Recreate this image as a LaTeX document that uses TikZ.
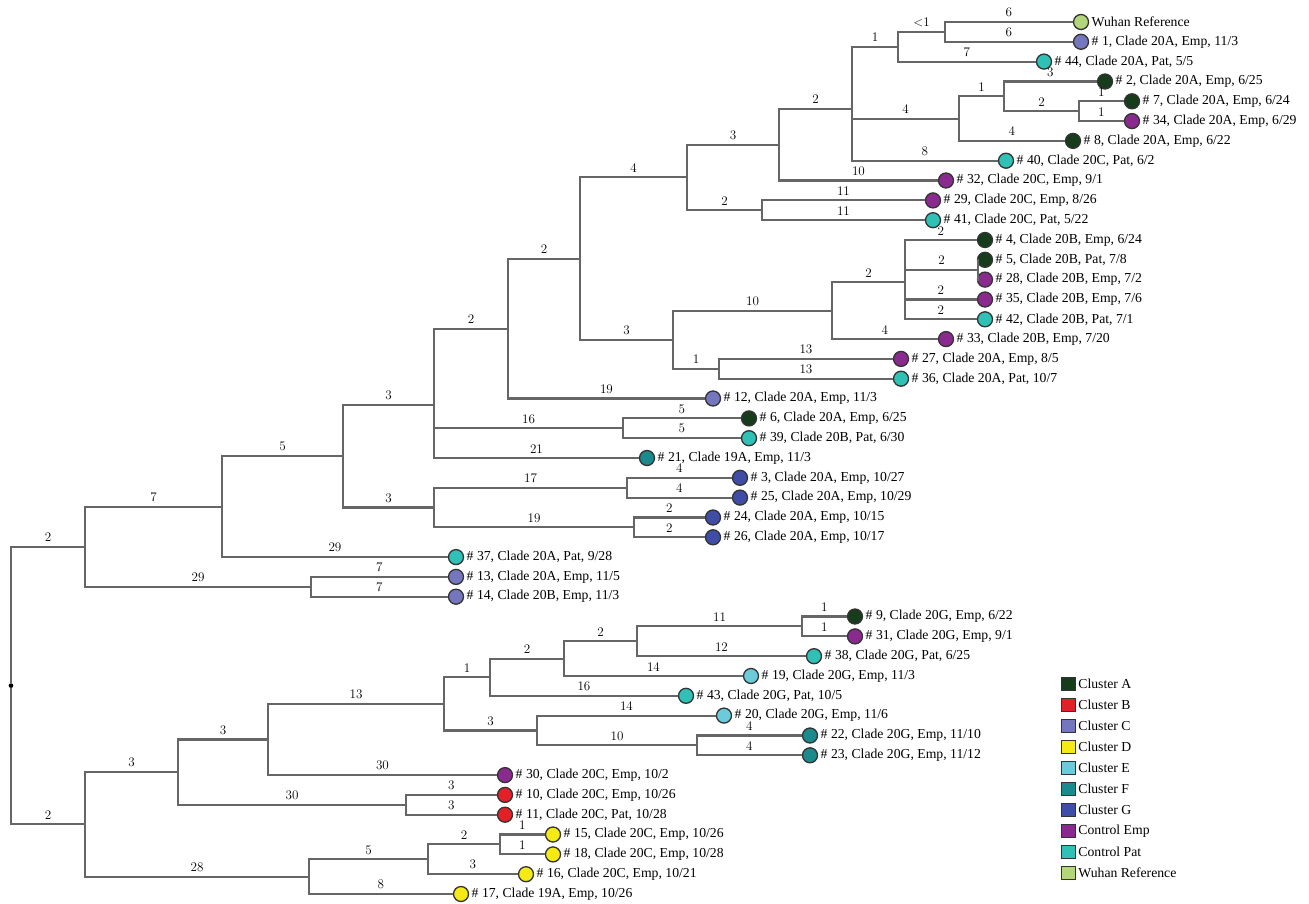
\documentclass[tikz,border=0pt]{standalone}
\usepackage{fontspec}
\newfontfamily\tipfont{Liberation Serif}
\usetikzlibrary{positioning}

\definecolor{clusterA}{HTML}{173C1B}
\definecolor{clusterB}{HTML}{E32028}
\definecolor{clusterC}{HTML}{7477BD}
\definecolor{clusterD}{HTML}{F5EA14}
\definecolor{clusterE}{HTML}{6BCBDB}
\definecolor{clusterF}{HTML}{1B8A8C}
\definecolor{clusterG}{HTML}{3F4DA6}
\definecolor{controlEmp}{HTML}{8B2A8E}
\definecolor{controlPat}{HTML}{2FC0B6}
\definecolor{wuhanRef}{HTML}{B3D67A}

\begin{document}
\begin{tikzpicture}[
    x=0.03cm, y=-0.03cm,
    branch/.style={line width=1.75pt, draw=black!60},
    leaf/.style={circle, draw=black!80, line width=1.1pt, inner sep=0pt, minimum size=0.45cm},
    tip_label/.style={font=\tipfont\fontsize{11.7}{13}\selectfont, inner sep=2pt},
    branch_len/.style={font=\fontsize{11.2}{12}\selectfont, above, pos=0.75},
    key_box/.style={rectangle, draw=black!80, line width=1.1pt, minimum size=0.4cm, inner sep=0pt},
    key_label/.style={font=\tipfont\fontsize{11.7}{13}\selectfont, inner sep=2pt}
]
\useasboundingbox (0,0) rectangle (1309,904);

% Root
\node[circle, fill=black, inner sep=0pt, minimum size=4pt] (root) at (11,685.6) {};

% Internal nodes, upper tree
\coordinate (c1) at (85,546.7);
\coordinate (c3) at (222,506.7);
\coordinate (c4) at (343,456.2);
\coordinate (c5) at (434,404.9);
\coordinate (c6) at (508,328.6);
\coordinate (c7) at (580,258.6);
\coordinate (c8) at (687,177.4);
\coordinate (c9) at (779,144.6);
\coordinate (c10) at (852,108.7);
\coordinate (c11) at (898,46.8);
\coordinate (c12) at (945,31.9);
\coordinate (c13) at (959,118.6);
\coordinate (c14) at (1004,96.3);
\coordinate (c15) at (1079,111.2);
\coordinate (c16) at (762,210.3);
\coordinate (c17) at (673,339.7);
\coordinate (c18) at (832,310.6);
\coordinate (c19) at (905,282.1);
\coordinate (c20) at (978,269.7);
\coordinate (c21) at (719,368.8);
\coordinate (c22) at (623,428.3);
\coordinate (c23) at (434,507.5);
\coordinate (c24) at (627,487.7);
\coordinate (c25) at (634,527.4);
\coordinate (c26) at (311,586.8);

% Internal nodes, lower tree
\coordinate (c2) at (85,824.4);
\coordinate (c27) at (178,772.2);
\coordinate (c28) at (268,739.5);
\coordinate (c29) at (444,703.9);
\coordinate (c30) at (490,677.2);
\coordinate (c31) at (564,658.6);
\coordinate (c32) at (637,641.3);
\coordinate (c33) at (802,626.4);
\coordinate (c34) at (537,730.5);
\coordinate (c35) at (697,745.4);
\coordinate (c36) at (406,804.8);
\coordinate (c37) at (309,876.6);
\coordinate (c38) at (428,859.3);
\coordinate (c39) at (500,844.4);

% Samples
\node[leaf, fill=wuhanRef, label={[tip_label]right:{Wuhan Reference}}] (wuhan) at (1081,22.0) {};
\node[leaf, fill=clusterC, label={[tip_label]right:{\# 1, Clade 20A, Emp, 11/3}}] (s1) at (1081,41.8) {};
\node[leaf, fill=controlPat, label={[tip_label]right:{\# 44, Clade 20A, Pat, 5/5}}] (s44) at (1044,61.6) {};
\node[leaf, fill=clusterA, label={[tip_label]right:{\# 2, Clade 20A, Emp, 6/25}}] (s2) at (1105,81.5) {};
\node[leaf, fill=clusterA, label={[tip_label]right:{\# 7, Clade 20A, Emp, 6/24}}] (s7) at (1132,101.3) {};
\node[leaf, fill=controlEmp, label={[tip_label]right:{\# 34, Clade 20A, Emp, 6/29}}] (s34) at (1132,121.1) {};
\node[leaf, fill=clusterA, label={[tip_label]right:{\# 8, Clade 20A, Emp, 6/22}}] (s8) at (1073,140.9) {};
\node[leaf, fill=controlPat, label={[tip_label]right:{\# 40, Clade 20C, Pat, 6/2}}] (s40) at (1006,160.7) {};
\node[leaf, fill=controlEmp, label={[tip_label]right:{\# 32, Clade 20C, Emp, 9/1}}] (s32) at (946,180.5) {};
\node[leaf, fill=controlEmp, label={[tip_label]right:{\# 29, Clade 20C, Emp, 8/26}}] (s29) at (933,200.4) {};
\node[leaf, fill=controlPat, label={[tip_label]right:{\# 41, Clade 20C, Pat, 5/22}}] (s41) at (933,220.2) {};
\node[leaf, fill=clusterA, label={[tip_label]right:{\# 4, Clade 20B, Emp, 6/24}}] (s4) at (985,240.0) {};
\node[leaf, fill=clusterA, label={[tip_label]right:{\# 5, Clade 20B, Pat, 7/8}}] (s5) at (985,259.8) {};
\node[leaf, fill=controlEmp, label={[tip_label]right:{\# 28, Clade 20B, Emp, 7/2}}] (s28) at (985,279.6) {};
\node[leaf, fill=controlEmp, label={[tip_label]right:{\# 35, Clade 20B, Emp, 7/6}}] (s35) at (985,299.5) {};
\node[leaf, fill=controlPat, label={[tip_label]right:{\# 42, Clade 20B, Pat, 7/1}}] (s42) at (985,319.3) {};
\node[leaf, fill=controlEmp, label={[tip_label]right:{\# 33, Clade 20B, Emp, 7/20}}] (s33) at (946,339.1) {};
\node[leaf, fill=controlEmp, label={[tip_label]right:{\# 27, Clade 20A, Emp, 8/5}}] (s27) at (901,358.9) {};
\node[leaf, fill=controlPat, label={[tip_label]right:{\# 36, Clade 20A, Pat, 10/7}}] (s36) at (901,378.7) {};
\node[leaf, fill=clusterC, label={[tip_label]right:{\# 12, Clade 20A, Emp, 11/3}}] (s12) at (713,398.5) {};
\node[leaf, fill=clusterA, label={[tip_label]right:{\# 6, Clade 20A, Emp, 6/25}}] (s6) at (749,418.4) {};
\node[leaf, fill=controlPat, label={[tip_label]right:{\# 39, Clade 20B, Pat, 6/30}}] (s39) at (749,438.2) {};
\node[leaf, fill=clusterF, label={[tip_label]right:{\# 21, Clade 19A, Emp, 11/3}}] (s21) at (647,458.0) {};
\node[leaf, fill=clusterG, label={[tip_label]right:{\# 3, Clade 20A, Emp, 10/27}}] (s3) at (740,477.8) {};
\node[leaf, fill=clusterG, label={[tip_label]right:{\# 25, Clade 20A, Emp, 10/29}}] (s25) at (740,497.6) {};
\node[leaf, fill=clusterG, label={[tip_label]right:{\# 24, Clade 20A, Emp, 10/15}}] (s24) at (713,517.5) {};
\node[leaf, fill=clusterG, label={[tip_label]right:{\# 26, Clade 20A, Emp, 10/17}}] (s26) at (713,537.3) {};
\node[leaf, fill=controlPat, label={[tip_label]right:{\# 37, Clade 20A, Pat, 9/28}}] (s37) at (456,557.1) {};
\node[leaf, fill=clusterC, label={[tip_label]right:{\# 13, Clade 20A, Emp, 11/5}}] (s13) at (456,576.9) {};
\node[leaf, fill=clusterC, label={[tip_label]right:{\# 14, Clade 20B, Emp, 11/3}}] (s14) at (456,596.7) {};
\node[leaf, fill=clusterA, label={[tip_label]right:{\# 9, Clade 20G, Emp, 6/22}}] (s9) at (855,616.5) {};
\node[leaf, fill=controlEmp, label={[tip_label]right:{\# 31, Clade 20G, Emp, 9/1}}] (s31) at (855,636.4) {};
\node[leaf, fill=controlPat, label={[tip_label]right:{\# 38, Clade 20G, Pat, 6/25}}] (s38) at (814,656.2) {};
\node[leaf, fill=clusterE, label={[tip_label]right:{\# 19, Clade 20G, Emp, 11/3}}] (s19) at (751,676.0) {};
\node[leaf, fill=controlPat, label={[tip_label]right:{\# 43, Clade 20G, Pat, 10/5}}] (s43) at (686,695.8) {};
\node[leaf, fill=clusterE, label={[tip_label]right:{\# 20, Clade 20G, Emp, 11/6}}] (s20) at (724,715.6) {};
\node[leaf, fill=clusterF, label={[tip_label]right:{\# 22, Clade 20G, Emp, 11/10}}] (s22) at (810,735.5) {};
\node[leaf, fill=clusterF, label={[tip_label]right:{\# 23, Clade 20G, Emp, 11/12}}] (s23) at (810,755.3) {};
\node[leaf, fill=controlEmp, label={[tip_label]right:{\# 30, Clade 20C, Emp, 10/2}}] (s30) at (505,775.1) {};
\node[leaf, fill=clusterB, label={[tip_label]right:{\# 10, Clade 20C, Emp, 10/26}}] (s10) at (505,794.9) {};
\node[leaf, fill=clusterB, label={[tip_label]right:{\# 11, Clade 20C, Pat, 10/28}}] (s11) at (505,814.7) {};
\node[leaf, fill=clusterD, label={[tip_label]right:{\# 15, Clade 20C, Emp, 10/26}}] (s15) at (553,834.5) {};
\node[leaf, fill=clusterD, label={[tip_label]right:{\# 18, Clade 20C, Emp, 10/28}}] (s18) at (553,854.4) {};
\node[leaf, fill=clusterD, label={[tip_label]right:{\# 16, Clade 20C, Emp, 10/21}}] (s16) at (526,874.2) {};
\node[leaf, fill=clusterD, label={[tip_label]right:{\# 17, Clade 19A, Emp, 10/26}}] (s17) at (461,894.0) {};

% Branches, upper tree
\draw[branch] (root) |- (c1) node[branch_len] {2};
\draw[branch] (c1) |- (c3) node[branch_len] {7};
\draw[branch] (c1) |- (c26) node[branch_len] {29};
\draw[branch] (c26) |- (s13) node[branch_len] {7};
\draw[branch] (c26) |- (s14) node[branch_len] {7};
\draw[branch] (c3) |- (c4) node[branch_len] {5};
\draw[branch] (c3) |- (s37) node[branch_len] {29};
\draw[branch] (c4) |- (c5) node[branch_len] {3};
\draw[branch] (c4) |- (c23) node[branch_len] {3};
\draw[branch] (c23) |- (c24) node[branch_len] {17};
\draw[branch] (c23) |- (c25) node[branch_len] {19};
\draw[branch] (c24) |- (s3) node[branch_len] {4};
\draw[branch] (c24) |- (s25) node[branch_len] {4};
\draw[branch] (c25) |- (s24) node[branch_len] {2};
\draw[branch] (c25) |- (s26) node[branch_len] {2};
\draw[branch] (c5) |- (c6) node[branch_len] {2};
\draw[branch] (c5) |- (c22) node[branch_len] {16};
\draw[branch] (c5) |- (s21) node[branch_len] {21};
\draw[branch] (c22) |- (s6) node[branch_len] {5};
\draw[branch] (c22) |- (s39) node[branch_len] {5};
\draw[branch] (c6) |- (c7) node[branch_len] {2};
\draw[branch] (c6) |- (s12) node[branch_len] {19};
\draw[branch] (c7) |- (c8) node[branch_len] {4};
\draw[branch] (c7) |- (c17) node[branch_len] {3};
\draw[branch] (c8) |- (c9) node[branch_len] {3};
\draw[branch] (c8) |- (c16) node[branch_len] {2};
\draw[branch] (c16) |- (s29) node[branch_len] {11};
\draw[branch] (c16) |- (s41) node[branch_len] {11};
\draw[branch] (c9) |- (c10) node[branch_len] {2};
\draw[branch] (c9) |- (s32) node[branch_len] {10};
\draw[branch] (c10) |- (c11) node[branch_len] {1};
\draw[branch] (c10) |- (c13) node[branch_len] {4};
\draw[branch] (c10) |- (s40) node[branch_len] {8};
\draw[branch] (c11) |- (c12) node[branch_len] {\textless1};
\draw[branch] (c11) |- (s44) node[branch_len] {7};
\draw[branch] (c12) |- (wuhan) node[branch_len] {6};
\draw[branch] (c12) |- (s1) node[branch_len] {6};
\draw[branch] (c13) |- (c14) node[branch_len] {1};
\draw[branch] (c13) |- (s8) node[branch_len] {4};
\draw[branch] (c14) |- (s2) node[branch_len] {3};
\draw[branch] (c14) |- (c15) node[branch_len] {2};
\draw[branch] (c15) |- (s7) node[branch_len] {1};
\draw[branch] (c15) |- (s34) node[branch_len] {1};
\draw[branch] (c17) |- (c18) node[branch_len] {10};
\draw[branch] (c17) |- (c21) node[branch_len] {1};
\draw[branch] (c21) |- (s27) node[branch_len] {13};
\draw[branch] (c21) |- (s36) node[branch_len] {13};
\draw[branch] (c18) |- (c19) node[branch_len] {2};
\draw[branch] (c18) |- (s33) node[branch_len] {4};
\draw[branch] (c19) |- (s4) node[branch_len] {2};
\draw[branch] (c19) |- (c20) node[branch_len] {2};
\draw[branch] (c19) |- (s35) node[branch_len] {2};
\draw[branch] (c19) |- (s42) node[branch_len] {2};
\draw[branch] (c20) |- (s5);
\draw[branch] (c20) |- (s28);

% Branches, lower tree
\draw[branch] (root) |- (c2) node[branch_len] {2};
\draw[branch] (c2) |- (c27) node[branch_len] {3};
\draw[branch] (c2) |- (c37) node[branch_len] {28};
\draw[branch] (c27) |- (c28) node[branch_len] {3};
\draw[branch] (c27) |- (c36) node[branch_len] {30};
\draw[branch] (c36) |- (s10) node[branch_len] {3};
\draw[branch] (c36) |- (s11) node[branch_len] {3};
\draw[branch] (c28) |- (c29) node[branch_len] {13};
\draw[branch] (c28) |- (s30) node[branch_len] {30};
\draw[branch] (c29) |- (c30) node[branch_len] {1};
\draw[branch] (c29) |- (c34) node[branch_len] {3};
\draw[branch] (c30) |- (c31) node[branch_len] {2};
\draw[branch] (c30) |- (s43) node[branch_len] {16};
\draw[branch] (c31) |- (c32) node[branch_len] {2};
\draw[branch] (c31) |- (s19) node[branch_len] {14};
\draw[branch] (c32) |- (c33) node[branch_len] {11};
\draw[branch] (c32) |- (s38) node[branch_len] {12};
\draw[branch] (c33) |- (s9) node[branch_len] {1};
\draw[branch] (c33) |- (s31) node[branch_len] {1};
\draw[branch] (c34) |- (s20) node[branch_len] {14};
\draw[branch] (c34) |- (c35) node[branch_len] {10};
\draw[branch] (c35) |- (s22) node[branch_len] {4};
\draw[branch] (c35) |- (s23) node[branch_len] {4};
\draw[branch] (c37) |- (c38) node[branch_len] {5};
\draw[branch] (c37) |- (s17) node[branch_len] {8};
\draw[branch] (c38) |- (c39) node[branch_len] {2};
\draw[branch] (c38) |- (s16) node[branch_len] {3};
\draw[branch] (c39) |- (s15) node[branch_len] {1};
\draw[branch] (c39) |- (s18) node[branch_len] {1};

% Legend
\node[key_box, fill=clusterA, label={[key_label]right:Cluster A}] (keyA) at (1068.5,684) {};
\node[key_box, fill=clusterB, label={[key_label]right:Cluster B}] (keyB) at (1068.5,705) {};
\node[key_box, fill=clusterC, label={[key_label]right:Cluster C}] (keyC) at (1068.5,726) {};
\node[key_box, fill=clusterD, label={[key_label]right:Cluster D}] (keyD) at (1068.5,747) {};
\node[key_box, fill=clusterE, label={[key_label]right:Cluster E}] (keyE) at (1068.5,768) {};
\node[key_box, fill=clusterF, label={[key_label]right:Cluster F}] (keyF) at (1068.5,789) {};
\node[key_box, fill=clusterG, label={[key_label]right:Cluster G}] (keyG) at (1068.5,810) {};
\node[key_box, fill=controlEmp, label={[key_label]right:Control Emp}] (keyEmp) at (1068.5,831) {};
\node[key_box, fill=controlPat, label={[key_label]right:Control Pat}] (keyPat) at (1068.5,852) {};
\node[key_box, fill=wuhanRef, label={[key_label]right:Wuhan Reference}] (keyWuhan) at (1068.5,873) {};

\end{tikzpicture}
\end{document}
